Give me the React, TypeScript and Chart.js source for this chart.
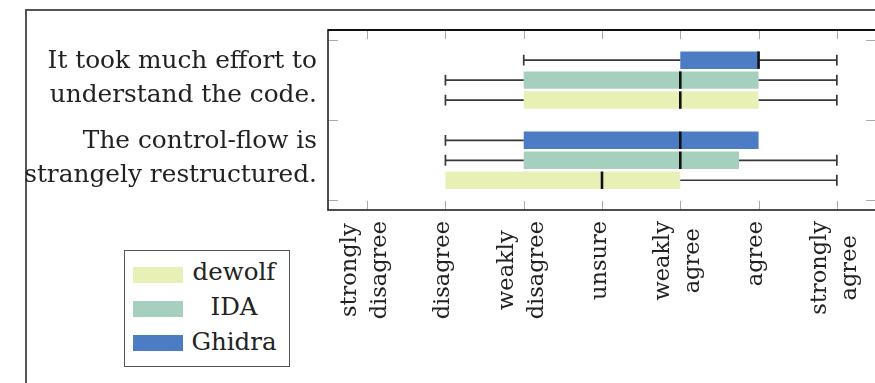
import React, { useEffect, useRef } from "react";
import { Chart, registerables } from "chart.js";

Chart.register(...registerables);

// ---------- data ----------
const categories = [
  ["It took much effort to", "understand the code."],
  ["The control-flow is", "strangely restructured."],
];
const categoryPositions = [1, 2];
const yTickBoundaries = [0.5, 1.5, 2.5];

const xTickValues = [1, 2, 3, 4, 5, 6, 7];
const xTickLabels = [
  ["strongly", "disagree"],
  ["disagree"],
  ["weakly", "disagree"],
  ["unsure"],
  ["weakly", "agree"],
  ["agree"],
  ["strongly", "agree"],
];

// Ghidra
const ghidraLow = [3, 2];
const ghidraQ1 = [5, 3];
const ghidraMedian = [6, 5];
const ghidraQ3 = [6, 6];
const ghidraHigh = [7, 6];
// IDA
const idaLow = [2, 2];
const idaQ1 = [3, 3];
const idaMedian = [5, 5];
const idaQ3 = [6, 5.75];
const idaHigh = [7, 7];
// dewolf
const dewolfLow = [2, 2];
const dewolfQ1 = [3, 2];
const dewolfMedian = [5, 4];
const dewolfQ3 = [6, 5];
const dewolfHigh = [7, 7];

// ---------- styles ----------
const GHIDRA_COLOR = "#4b7cc4";
const IDA_COLOR = "#a6d0be";
const DEWOLF_COLOR = "#e9f0b5";
const FONT = "'DejaVu Serif', serif";
const TEXT_COLOR = "#222";

// order top-to-bottom within each group
const series = [
  { name: "Ghidra", color: GHIDRA_COLOR, low: ghidraLow, q1: ghidraQ1, median: ghidraMedian, q3: ghidraQ3, high: ghidraHigh },
  { name: "IDA", color: IDA_COLOR, low: idaLow, q1: idaQ1, median: idaMedian, q3: idaQ3, high: idaHigh },
  { name: "dewolf", color: DEWOLF_COLOR, low: dewolfLow, q1: dewolfQ1, median: dewolfMedian, q3: dewolfQ3, high: dewolfHigh },
];
const legendOrder = ["dewolf", "IDA", "Ghidra"];

const CANVAS_W = 900;
const CANVAS_H = 383;

const boxPlugin = {
  id: "boxExtras",
  afterDatasetsDraw(chart: any) {
    const ctx = chart.ctx;
    const xs = chart.scales.x;
    series.forEach((s, di) => {
      const meta = chart.getDatasetMeta(di);
      meta.data.forEach((el: any, i: number) => {
        const { y, height } = el.getProps(["y", "height"], true);
        const h = Math.abs(height);
        const cap = h * 0.62;
        const xl = xs.getPixelForValue(s.low[i]);
        const xq1 = xs.getPixelForValue(s.q1[i]);
        const xm = xs.getPixelForValue(s.median[i]);
        const xq3 = xs.getPixelForValue(s.q3[i]);
        const xh = xs.getPixelForValue(s.high[i]);
        ctx.save();
        ctx.strokeStyle = "#383838";
        ctx.lineWidth = 1.7;
        if (s.low[i] < s.q1[i]) {
          ctx.beginPath();
          ctx.moveTo(xl, y);
          ctx.lineTo(xq1, y);
          ctx.moveTo(xl, y - cap / 2);
          ctx.lineTo(xl, y + cap / 2);
          ctx.stroke();
        }
        if (s.high[i] > s.q3[i]) {
          ctx.beginPath();
          ctx.moveTo(xq3, y);
          ctx.lineTo(xh, y);
          ctx.moveTo(xh, y - cap / 2);
          ctx.lineTo(xh, y + cap / 2);
          ctx.stroke();
        }
        ctx.strokeStyle = "#111";
        ctx.lineWidth = 2.6;
        ctx.beginPath();
        ctx.moveTo(xm, y - h / 2);
        ctx.lineTo(xm, y + h / 2);
        ctx.stroke();
        ctx.restore();
      });
    });
  },
  afterDraw(chart: any) {
    const ctx = chart.ctx;
    const { left, right, top, bottom } = chart.chartArea;
    const xs = chart.scales.x;
    const ys = chart.scales.y;
    ctx.save();
    // tick marks
    ctx.strokeStyle = "#a8a8a8";
    ctx.lineWidth = 1;
    xTickValues.forEach((v) => {
      const px = Math.round(xs.getPixelForValue(v)) + 0.5;
      ctx.beginPath();
      ctx.moveTo(px, top);
      ctx.lineTo(px, top + 9);
      ctx.moveTo(px, bottom);
      ctx.lineTo(px, bottom - 9);
      ctx.stroke();
    });
    yTickBoundaries.forEach((v) => {
      const py = Math.round(ys.getPixelForValue(v)) + 0.5;
      ctx.beginPath();
      ctx.moveTo(left, py);
      ctx.lineTo(left + 10, py);
      ctx.moveTo(right, py);
      ctx.lineTo(right - 10, py);
      ctx.stroke();
    });
    // frame
    ctx.strokeStyle = "#3a3a3a";
    ctx.lineWidth = 1.8;
    ctx.strokeRect(left, top, right - left, bottom - top);
    ctx.strokeStyle = "#111";
    ctx.lineWidth = 2.2;
    ctx.beginPath();
    ctx.moveTo(left, top);
    ctx.lineTo(right, top);
    ctx.stroke();

    // y labels
    ctx.fillStyle = TEXT_COLOR;
    ctx.font = `24.8px ${FONT}`;
    ctx.textAlign = "right";
    ctx.textBaseline = "alphabetic";
    categoryPositions.forEach((p, ci) => {
      const cy = ys.getPixelForValue(p);
      const lines = categories[ci];
      ctx.fillText(lines[0], left - 11, cy - 12.5);
      ctx.fillText(lines[1], left - 11, cy + 21.5);
    });

    // x labels (rotated)
    ctx.font = `22.5px ${FONT}`;
    ctx.textAlign = "center";
    ctx.textBaseline = "middle";
    xTickValues.forEach((v, ti) => {
      const px = xs.getPixelForValue(v);
      const lines = xTickLabels[ti];
      const blockLen = Math.max(...lines.map((l) => ctx.measureText(l).width));
      const cy = bottom + 11 + blockLen / 2;
      lines.forEach((line, li) => {
        const cx = px - 2 + (li - (lines.length - 1) / 2) * 30;
        ctx.save();
        ctx.translate(cx, cy);
        ctx.rotate(-Math.PI / 2);
        ctx.fillText(line, 0, 0);
        ctx.restore();
      });
    });
    ctx.restore();
  },
};

export default function App() {
  const canvasRef = useRef<HTMLCanvasElement | null>(null);

  useEffect(() => {
    const canvas = canvasRef.current;
    if (!canvas) return;
    const chart = new Chart(canvas, {
      type: "bar",
      data: {
        datasets: series.map((s) => ({
          label: s.name,
          data: categoryPositions.map((p, i) => ({ x: [s.q1[i], s.q3[i]], y: p })),
          backgroundColor: s.color,
          borderWidth: 0,
          categoryPercentage: 0.747,
          barPercentage: 0.875,
        })),
      } as any,
      options: {
        indexAxis: "y",
        responsive: false,
        animation: false,
        devicePixelRatio: 1,
        layout: { padding: { left: 328, top: 30, right: CANVAS_W - 876, bottom: CANVAS_H - 210 } },
        scales: {
          x: { type: "linear", min: 0.5, max: 7.5, display: false },
          y: {
            type: "linear",
            min: 0.375,
            max: 2.62,
            reverse: true,
            offset: false,
            display: false,
            afterBuildTicks: (scale: any) => {
              scale.ticks = categoryPositions.map((v) => ({ value: v }));
            },
          },
        },
        plugins: { legend: { display: false }, tooltip: { enabled: false } },
      } as any,
      plugins: [boxPlugin],
    });
    return () => chart.destroy();
  }, []);

  const legendRows = legendOrder.map((name) => series.find((s) => s.name === name)!);

  return (
    <div
      style={{
        position: "fixed",
        left: 0,
        top: 0,
        width: 875,
        height: 383,
        overflow: "hidden",
        background: "#fff",
      }}
    >
      <div
        style={{
          position: "absolute",
          left: 25,
          top: 9,
          width: 900,
          height: 400,
          borderTop: "2px solid #555",
          borderLeft: "2px solid #555",
        }}
      />
      <canvas
        ref={canvasRef}
        width={CANVAS_W}
        height={CANVAS_H}
        style={{ position: "absolute", left: 0, top: 0, width: CANVAS_W, height: CANVAS_H }}
      />
      <div
        style={{
          position: "absolute",
          left: 124,
          top: 250,
          width: 166,
          height: 117,
          border: "1.5px solid #555",
          boxSizing: "border-box",
          background: "#fff",
        }}
      />
      {legendRows.map((s, i) => (
        <React.Fragment key={s.name}>
          <div
            style={{
              position: "absolute",
              left: 133,
              top: 267 + i * 34,
              width: 50,
              height: 16,
              background: s.color,
            }}
          />
          <div
            style={{
              position: "absolute",
              left: 185,
              top: 256.5 + i * 35,
              width: 98,
              textAlign: "center",
              font: `24.5px ${FONT}`,
              lineHeight: "30px",
              color: TEXT_COLOR,
              whiteSpace: "nowrap",
            }}
          >
            {s.name}
          </div>
        </React.Fragment>
      ))}
    </div>
  );
}
